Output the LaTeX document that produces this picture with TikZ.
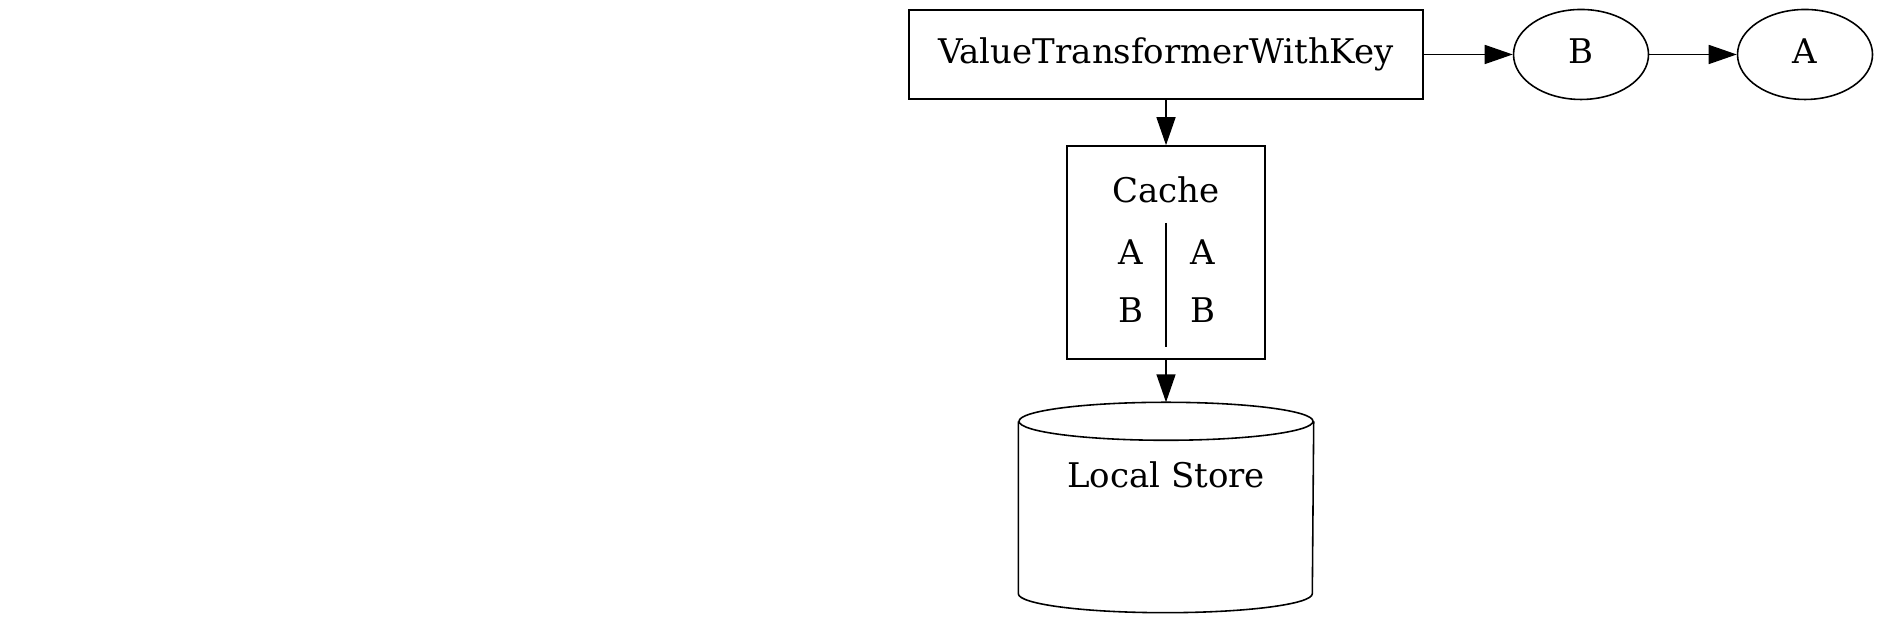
\documentclass[tikz,border=0pt]{standalone}
\usepackage{fontspec}
\setmainfont{DejaVu Serif}
\usetikzlibrary{arrows.meta,positioning,shapes.geometric}

\begin{document}
\begin{tikzpicture}[
    every node/.style={font=\fontsize{9.67}{11.6}\selectfont, text height=0.76em, text depth=0.24em, inner sep=0pt},
    box/.style={draw, line width=0.45pt},
    oval/.style={draw, ellipse, line width=0.45pt, minimum width=1.35cm, minimum height=0.9cm},
    edge/.style={-{Triangle[length=0.28cm,width=0.19cm]}, line width=0.45pt}]
    \useasboundingbox (0,0) rectangle (18.83,6.22);
    % transformer and the records it forwards
    \node[box, minimum width=5.14cm, minimum height=0.89cm] (vt) at (11.66,5.675) {ValueTransformerWithKey};
    \node[oval] (b) at (15.81,5.675) {B};
    \node[oval] (a) at (18.05,5.675) {A};
    \draw[edge] (vt) -- (b);
    \draw[edge] (b) -- (a);
    % cache
    \node[box, minimum width=1.98cm, minimum height=2.13cm] (cache) at (11.66,3.695) {};
    \node (cachelbl) at (11.66,4.286) {Cache};
    \node (keya) at (11.31,3.666) {A};
    \node (vala) at (12.03,3.666) {A};
    \node (keyb) at (11.31,3.086) {B};
    \node (valb) at (12.03,3.086) {B};
    \coordinate (divtop) at (11.66,3.99);
    \coordinate (divbot) at (11.66,2.75);
    \draw[line width=0.45pt] (divtop) -- (divbot);
    \draw[edge] (vt) -- (cache);
    % local store
    \node[minimum width=2.94cm, minimum height=2.09cm] (store) at (11.66,1.145) {};
    \draw[line width=0.45pt] ([yshift=-0.19cm]store.north) ellipse[x radius=1.47cm, y radius=0.19cm];
    \draw[line width=0.45pt] ([yshift=-0.19cm]store.north west) -- ([yshift=0.19cm]store.south west)
        arc[start angle=180, end angle=360, x radius=1.47cm, y radius=0.19cm]
        -- ([yshift=-0.19cm]store.north east);
    \node (storelbl) at (11.66,1.436) {Local Store};
    \draw[edge] (cache) -- (store.north);
\end{tikzpicture}
\end{document}
